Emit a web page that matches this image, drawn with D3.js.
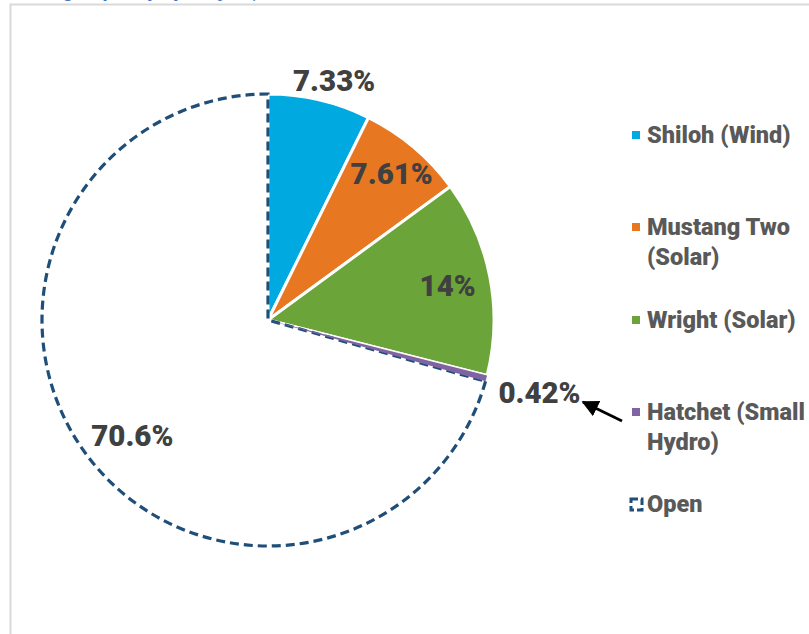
<!DOCTYPE html>
<html>
<head>
<meta charset="utf-8">
<script src="https://cdn.jsdelivr.net/npm/d3@7"></script>
<style>
  body { margin: 0; background: #fff; }
  text { font-family: Roboto, "Open Sans", sans-serif; }
</style>
</head>
<body>
<script>
var w = 809;
var h = 634;

// pie data (share of capacity, %)
var projects = ["Shiloh (Wind)", "Mustang Two (Solar)", "Wright (Solar)", "Hatchet (Small Hydro)", "Open"];
var shares = [7.33, 7.61, 14.0, 0.42, 70.6];
var shareLabels = ["7.33%", "7.61%", "14%", "0.42%", "70.6%"];

// legend text, wrapped like the original
var legendLines = [["Shiloh (Wind)"], ["Mustang Two", "(Solar)"], ["Wright (Solar)"], ["Hatchet (Small", "Hydro)"], ["Open"]];

var colors = ["#00a9e0", "#e87722", "#6ba539", "#8064a2", "#ffffff"];
var openStroke = "#1f4e79";

var cx = 268, cy = 320, radius = 226;
var labelRadius = [250, 192, 183, 281, 179];
var labelNudge = [[9, 4], [0, 0], [0, 0], [0, 0], [7, 7]];   //manual label tweaks

var svg = d3.select("body")
    .append("svg")
    .attr("width", w)
    .attr("height", h);

// frame of the chart area (cropped screenshot)
svg.append("rect")
    .attr("x", 10.5)
    .attr("y", 4.5)
    .attr("width", w + 20)
    .attr("height", h + 20)
    .attr("fill", "none")
    .attr("stroke", "#d9d9d9")
    .attr("stroke-width", 2);

// title, mostly cut off above the frame
svg.append("text")
    .attr("x", 2)
    .attr("y", -3)
    .attr("fill", "#4472c4")
    .style("font-size", "20px")
    .style("font-weight", "bold")
    .text("Existing Capacity by Project, MW");

var pie = d3.pie()
    .sort(null)
    .value(function(d){ return d; });

var arcs = pie(shares);

var arc = d3.arc()
    .innerRadius(0)
    .outerRadius(radius);

var g = svg.append("g")
    .attr("transform", "translate(" + cx + "," + cy + ")");

g.selectAll("path")
    .data(arcs)
    .enter()
    .append("path")
    .attr("d", arc)
    .attr("fill", function(d,i){ return colors[i]; })
    .attr("stroke", function(d,i){ return i === 4 ? openStroke : "#fff"; })
    .attr("stroke-width", function(d,i){ return i === 4 ? 3.2 : 3; })
    .attr("stroke-dasharray", function(d,i){ return i === 4 ? "9,5" : null; })
    .attr("stroke-linejoin", "miter");

// thin purple sliver for Hatchet so it stays visible under the dashes
g.append("path")
    .datum(arcs[3])
    .attr("d", arc)
    .attr("fill", colors[3]);

g.selectAll(".lbl")
    .data(arcs)
    .enter()
    .append("text")
    .attr("class", "lbl")
    .attr("transform", function(d,i){
        var a = (d.startAngle + d.endAngle) / 2;
        var r = labelRadius[i];
        var x = Math.sin(a) * r + labelNudge[i][0];
        var y = -Math.cos(a) * r + labelNudge[i][1];
        return "translate(" + x + "," + y + ")";
    })
    .attr("text-anchor", "middle")
    .attr("dy", "0.36em")
    .attr("fill", "#404040")
    .style("font-size", "29.5px")
    .style("font-weight", "900")
    .text(function(d,i){ return shareLabels[i]; });

// arrow pointing at the small Hatchet label
svg.append("defs").append("marker")
    .attr("id", "arrow")
    .attr("viewBox", "0 0 10 10")
    .attr("refX", 9)
    .attr("refY", 5)
    .attr("markerWidth", 6)
    .attr("markerHeight", 6)
    .attr("orient", "auto")
    .append("path")
    .attr("d", "M0,0L10,5L0,10z")
    .attr("fill", "#000");

svg.append("line")
    .attr("x1", 622)
    .attr("y1", 421)
    .attr("x2", 583)
    .attr("y2", 402)
    .attr("stroke", "#000")
    .attr("stroke-width", 2.8)
    .attr("marker-end", "url(#arrow)");

// legend
var legendY = [135, 227, 320, 412, 504];
var legend = svg.selectAll(".leg")
    .data(projects)
    .enter()
    .append("g")
    .attr("class", "leg")
    .attr("transform", function(d,i){ return "translate(632," + legendY[i] + ")"; });

legend.append("rect")
    .attr("x", function(d,i){ return i === 4 ? -1 : 0; })
    .attr("y", function(d,i){ return i === 4 ? -5 : -4; })
    .attr("width", function(d,i){ return i === 4 ? 11 : 8; })
    .attr("height", function(d,i){ return i === 4 ? 11 : 8; })
    .attr("fill", function(d,i){ return colors[i]; })
    .attr("stroke", function(d,i){ return i === 4 ? openStroke : "none"; })
    .attr("stroke-width", 3)
    .attr("stroke-dasharray", function(d,i){ return i === 4 ? "7,3" : null; });

legend.each(function(d,i){
    var t = d3.select(this).append("text")
        .attr("x", 15)
        .attr("y", 0)
        .attr("fill", "#595959")
        .style("font-size", "23.5px")
        .style("font-weight", "900");
    legendLines[i].forEach(function(line, j){
        t.append("tspan")
            .attr("x", 15)
            .attr("dy", j === 0 ? "0.36em" : "1.26em")
            .text(line);
    });
});
</script>
</body>
</html>
